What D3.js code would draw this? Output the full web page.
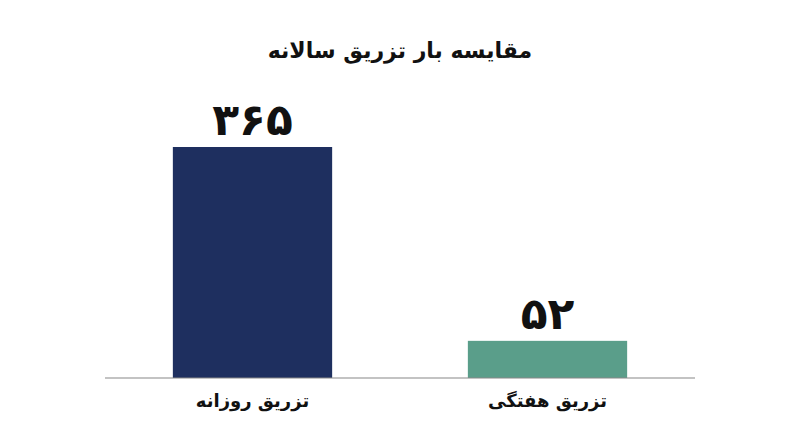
<!DOCTYPE html>
<html lang="fa">
<head>
<meta charset="utf-8">
<script src="https://cdn.jsdelivr.net/npm/d3@7"></script>
<style>
  body { margin: 0; background: #fff; }
  svg { display: block; font-family: "DejaVu Sans", sans-serif; }
</style>
</head>
<body>
<svg id="chart"></svg>
<script>
const title = 'مقایسه بار تزریق سالانه';
const categories = ['تزریق روزانه', 'تزریق هفتگی'];
const values = [365, 52];
const valueLabels = ['۳۶۵', '۵۲'];
const colors = ['#1e2f5f', '#5a9e8a'];

const width = 800, height = 447;
const svg = d3.select('#chart').attr('width', width).attr('height', height);

const x = d3.scaleBand()
    .domain(categories)
    .range([105, 695])
    .paddingInner(0.46)
    .paddingOuter(0.23);

// baseline sits a bit below zero in the original
const y = d3.scaleLinear()
    .domain([-8, 365])
    .range([378, 147]);

svg.append('text')
    .attr('x', width / 2)
    .attr('y', 58)
    .attr('text-anchor', 'middle')
    .attr('direction', 'rtl')
    .attr('font-size', 22)
    .attr('font-weight', 'bold')
    .attr('fill', '#111')
    .text(title);

const data = categories.map((c, i) => ({ cat: c, value: values[i], label: valueLabels[i], color: colors[i] }));

svg.selectAll('rect.bar')
  .data(data)
  .join('rect')
    .attr('class', 'bar')
    .attr('x', d => x(d.cat))
    .attr('width', x.bandwidth())
    .attr('y', d => y(d.value))
    .attr('height', d => y.range()[0] - y(d.value))
    .attr('fill', d => d.color);

svg.selectAll('text.val')
  .data(data)
  .join('text')
    .attr('class', 'val')
    .attr('x', d => x(d.cat) + x.bandwidth() / 2)
    .attr('y', d => y(d.value) - 12)
    .attr('text-anchor', 'middle')
    .attr('font-size', 44)
    .attr('font-weight', 'bold')
    .attr('fill', '#111')
    .text(d => d.label);

// baseline axis
const axis = svg.append('g')
    .attr('transform', `translate(0,${y.range()[0]})`)
    .call(d3.axisBottom(x).tickSize(0).tickPadding(16));

axis.select('.domain').attr('stroke', '#888').attr('stroke-width', 1.2)
    .attr('d', 'M105,0H695');
axis.selectAll('text')
    .attr('font-size', 18)
    .attr('font-weight', 'bold')
    .attr('fill', '#111')
    .attr('font-family', '"DejaVu Sans", sans-serif')
    .attr('direction', 'rtl');
</script>
</body>
</html>
